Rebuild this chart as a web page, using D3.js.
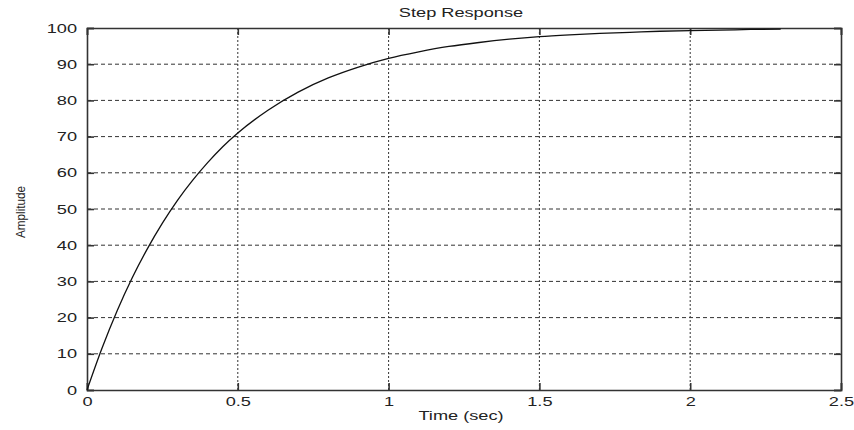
<!DOCTYPE html>
<html lang="en">
  <head>
    <meta charset="UTF-8" />
    <script src="https://d3js.org/d3.v7.min.js"></script>
    <title>Step Response</title>
    <style>
      body { margin: 0; background: #fff; }
      text { font-family: "Liberation Sans", Arial, sans-serif; fill: #222; }
    </style>
  </head>
  <body>
    <script>
      // values
      const timeValues = [0, 0.05, 0.1, 0.15, 0.2, 0.25, 0.3, 0.35, 0.4, 0.45, 0.5, 0.6, 0.7, 0.8, 0.9, 1.0,
        1.1, 1.2, 1.3, 1.4, 1.5, 1.6, 1.7, 1.8, 1.9, 2.0, 2.1, 2.2, 2.3]
      const amplitudeValues = [0, 11.6, 21.9, 31.0, 39.0, 46.1, 52.4, 57.9, 62.8, 67.2, 71.0, 77.3, 82.3, 86.2, 89.2, 91.6,
        93.4, 94.9, 96.0, 96.9, 97.6, 98.1, 98.5, 98.8, 99.1, 99.3, 99.4, 99.6, 99.7]
      const xTicks = [0, 0.5, 1, 1.5, 2, 2.5]
      const yTicks = [0, 10, 20, 30, 40, 50, 60, 70, 80, 90, 100]

      const width = 854, height = 430
      const margin = { left: 87, right: 13, top: 28, bottom: 40 }
      const stretch = 1.4 // the old raster font is wide

      const svg = d3.select('body').append('svg').attr('width', width).attr('height', height)

      const x = d3.scaleLinear().domain([0, 2.5]).range([margin.left, width - margin.right])
      const y = d3.scaleLinear().domain([0, 100]).range([height - margin.bottom, margin.top])

      const axisColor = '#333'

      // grid
      svg.append('g')
        .selectAll('line')
        .data(yTicks.slice(1, -1))
        .enter()
        .append('line')
        .attr('x1', x(0)).attr('x2', x(2.5))
        .attr('y1', (d) => y(d)).attr('y2', (d) => y(d))
        .attr('stroke', axisColor)
        .attr('stroke-width', 1)
        .style('stroke-dasharray', '4 3')

      svg.append('g')
        .selectAll('line')
        .data(xTicks.slice(1, -1))
        .enter()
        .append('line')
        .attr('x1', (d) => x(d)).attr('x2', (d) => x(d))
        .attr('y1', y(0)).attr('y2', y(100))
        .attr('stroke', axisColor)
        .attr('stroke-width', 1)
        .style('stroke-dasharray', '2 2')

      // axes (ticks inside)
      const tickLen = 7
      const axisB = svg.append('g')
        .attr('transform', `translate(0,${y(0)})`)
        .call(d3.axisBottom(x).tickValues(xTicks).tickSize(-tickLen).tickPadding(7).tickFormat(d3.format('')))
      const axisT = svg.append('g')
        .attr('transform', `translate(0,${y(100)})`)
        .call(d3.axisTop(x).tickValues(xTicks).tickSize(-tickLen).tickFormat(''))
      const axisL = svg.append('g')
        .attr('transform', `translate(${x(0)},0)`)
        .call(d3.axisLeft(y).tickValues(yTicks).tickSize(-tickLen).tickPadding(7))
      const axisR = svg.append('g')
        .attr('transform', `translate(${x(2.5)},0)`)
        .call(d3.axisRight(y).tickValues(yTicks).tickSize(-tickLen).tickFormat(''))

      ;[axisB, axisT, axisL, axisR].forEach((g) => {
        g.select('.domain').attr('stroke', axisColor).attr('stroke-width', 1.6)
        g.selectAll('.tick line').attr('stroke', axisColor).attr('stroke-width', 1.6)
        g.selectAll('.tick text').attr('font-size', 13).attr('fill', '#222')
          .attr('transform', `scale(${stretch},1)`)
          .style('font-family', '"Liberation Sans", Arial, sans-serif')
      })
      axisL.selectAll('.tick text').attr('x', -10 / stretch)

      // response curve
      const points = timeValues.map((t, i) => [t, amplitudeValues[i]])
      svg.append('path')
        .datum(points)
        .attr('fill', 'none')
        .attr('stroke', '#111')
        .attr('stroke-width', 1.3)
        .attr('d', d3.line().x((d) => x(d[0])).y((d) => y(d[1])).curve(d3.curveMonotoneX))

      // labels
      svg.append('text')
        .attr('transform', `translate(461,17) scale(${stretch},1)`)
        .attr('text-anchor', 'middle')
        .attr('font-size', 13)
        .text('Step Response')

      svg.append('text')
        .attr('transform', `translate(461,420) scale(${stretch},1)`)
        .attr('text-anchor', 'middle')
        .attr('font-size', 13)
        .text('Time (sec)')

      svg.append('text')
        .attr('transform', `translate(25,212) rotate(-90) scale(0.9,1)`)
        .attr('text-anchor', 'middle')
        .attr('font-size', 13)
        .text('Amplitude')
    </script>
  </body>
</html>
